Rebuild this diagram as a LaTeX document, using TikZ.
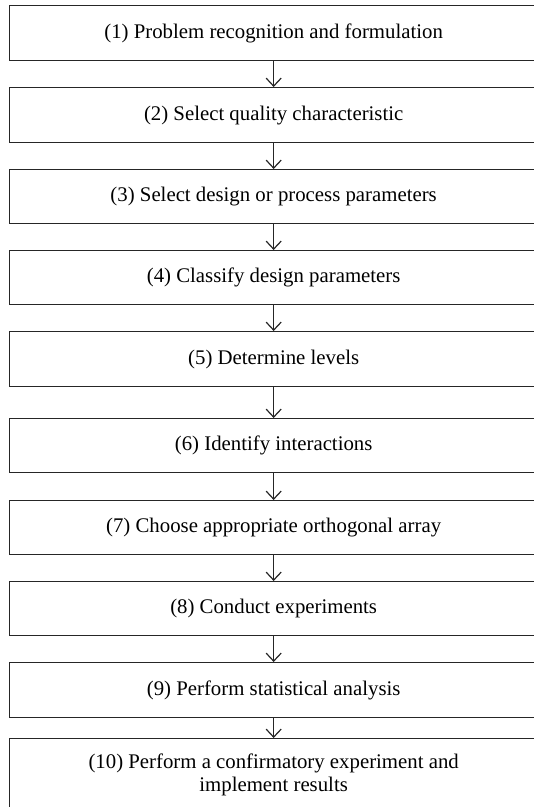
\documentclass[tikz,border=0pt]{standalone}
\usepackage{fontspec}
\setmainfont{Liberation Serif}
\usetikzlibrary{arrows.meta}
\begin{document}
\begin{tikzpicture}[x=1pt,y=-1pt,
  stepbox/.style={draw=black!85, line width=1.3pt, minimum width=529pt, inner sep=0pt,
    anchor=north west, align=center, font=\fontsize{20.8}{23.5}\selectfont},
  conn/.style={draw=black!85, line width=1.3pt, -{Straight Barb[length=8pt,width=15pt,line width=1.2pt]}}]
\useasboundingbox (0,0) rectangle (534,807);
\node[stepbox, minimum height=55pt] (b1) at (8.5,5) {(1) Problem recognition and formulation};
\node[stepbox, minimum height=55pt] (b2) at (8.5,87) {(2) Select quality characteristic};
\node[stepbox, minimum height=54pt] (b3) at (8.5,169) {(3) Select design or process parameters};
\node[stepbox, minimum height=54pt] (b4) at (8.5,250) {(4) Classify design parameters};
\node[stepbox, minimum height=55pt] (b5) at (8.5,331) {(5) Determine levels};
\node[stepbox, minimum height=54pt] (b6) at (8.5,418) {(6) Identify interactions};
\node[stepbox, minimum height=54pt] (b7) at (8.5,500) {(7) Choose appropriate orthogonal array};
\node[stepbox, minimum height=54pt] (b8) at (8.5,581) {(8) Conduct experiments};
\node[stepbox, minimum height=55pt] (b9) at (8.5,662) {(9) Perform statistical analysis};
\node[stepbox, minimum height=72pt] (b10) at (8.5,738) {(10) Perform a confirmatory experiment and\\implement results};
\foreach \a/\b in {b1/b2,b2/b3,b3/b4,b4/b5,b5/b6,b6/b7,b7/b8,b8/b9,b9/b10}
  \draw[conn] (\a.south) -- (\b.north);
\end{tikzpicture}
\end{document}
